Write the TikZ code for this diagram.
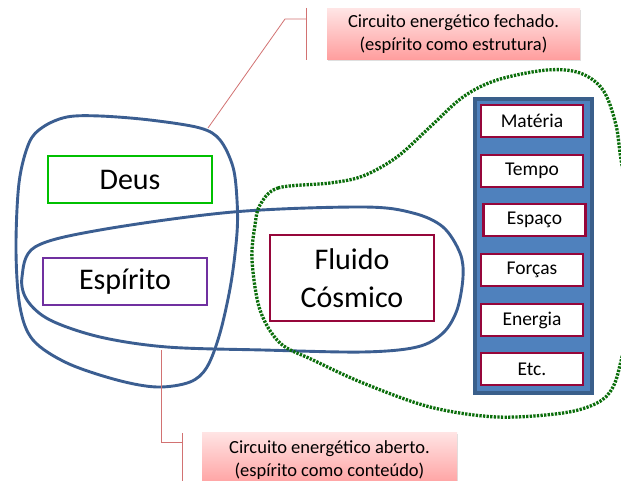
\documentclass[tikz,border=0pt]{standalone}
\usepackage{fontspec}
\setmainfont{Carlito}
\usetikzlibrary{shadows}
\definecolor{loopblue}{HTML}{3B5E91}
\definecolor{dotgreen}{HTML}{0B6E0B}
\definecolor{panelfill}{HTML}{4F81BD}
\definecolor{panelline}{HTML}{3A5F8B}
\definecolor{boxred}{HTML}{96063A}
\definecolor{deusgreen}{HTML}{00C000}
\definecolor{spiritpurple}{HTML}{7030A0}
\definecolor{calloutline}{HTML}{D27272}
\definecolor{calltop}{HTML}{FFE4E4}
\definecolor{callbot}{HTML}{FF9D9D}
\tikzset{
  loopline/.style={draw=loopblue, line width=2.9pt},
  dotline/.style={draw=dotgreen, line width=3.3pt, dash pattern=on 2.3pt off 1.3pt},
  bigbox/.style={draw, fill=white, line width=2.5pt, inner sep=0pt, minimum width=164pt, font=\fontsize{30}{38}\selectfont, align=center},
  smallbox/.style={draw=boxred, fill=white, line width=2.8pt, inner sep=0pt, minimum width=102pt, minimum height=32pt, font=\fontsize{19.5}{22}\selectfont},
  callout/.style={top color=calltop, bottom color=callbot, draw=none, inner sep=0pt, align=center, font=\fontsize{18.5}{23}\selectfont, drop shadow={opacity=0.25, shadow xshift=1pt, shadow yshift=-1.5pt}},
  calline/.style={draw=calloutline, line width=0.8pt}
}
\begin{document}
\begin{tikzpicture}[x=1pt,y=-1pt]
\useasboundingbox (0,0) rectangle (621,481);
\clip (0,0) rectangle (621,481);
\fill[white] (0,0) rectangle (621,481);

% panel
\node[draw=panelline, fill=panelfill, line width=3.2pt, minimum width=117pt, minimum height=294pt, inner sep=0pt] (panel) at (533.5,246) {};

% boxes
\node[bigbox, draw=deusgreen, minimum height=47pt] (deus) at (130,179.5) {Deus};
\node[bigbox, draw=spiritpurple, minimum height=47pt] (espirito) at (125,281.5) {Espírito};
\node[bigbox, draw=boxred, minimum height=86pt] (fluido) at (352,278) {Fluido\\Cósmico};

\node[smallbox] (materia) at (532,121) {Matéria};
\node[smallbox] (tempo) at (532,171) {Tempo};
\node[smallbox] (espaco) at (534.5,220) {Espaço};
\node[smallbox] (forcas) at (532,270) {Forças};
\node[smallbox] (energia) at (532,320) {Energia};
\node[smallbox] (etc) at (532,369) {Etc.};

% loops
\draw[loopline] plot[smooth cycle, tension=0.55] coordinates {(43,127) (67,117) (100,116) (150,120) (200,128) (220,140) (233,167) (237,200) (237,233) (231,283) (220,333) (207,367) (190,382) (157,387) (117,380) (67,363) (33,340) (20,307) (16,250) (19,183) (29,143)};
\draw[loopline] plot[smooth cycle, tension=0.55] coordinates {(22,277) (35,247) (100,230) (233,212) (363,207) (413,213) (443,227) (460,253) (463,277) (457,310) (443,333) (417,347) (363,352) (263,350) (167,347) (100,337) (50,320) (27,300)};
\draw[dotline] plot[smooth cycle, tension=0.55] coordinates {(260,205) (278,188) (330,183) (363,176) (397,157) (430,127) (463,97) (497,80) (547,70) (580,73) (603,90) (616,125) (623,170) (645,260) (623,353) (613,387) (597,403) (563,413) (497,417) (430,407) (363,383) (313,360) (280,343) (260,310) (252,260) (255,225)};

% callouts
\node[callout, minimum width=253pt, minimum height=51pt] (c1) at (453.5,34.5) {Circuito energético fechado.\\(espírito como estrutura)};
\node[callout, minimum width=255pt, minimum height=56pt] (c2) at (329.5,460) {Circuito energético aberto.\\(espírito como conteúdo)};

\coordinate (b1top) at (306,8);
\coordinate (b1bot) at (306,60);
\coordinate (b1mid) at (306,19);
\coordinate (k1) at (285,19);
\coordinate (t1) at (208,128);
\draw[calline] (b1top) -- (b1bot);
\draw[calline] (b1mid) -- (k1) -- (t1);

\coordinate (b2top) at (182,433);
\coordinate (b2bot) at (182,481);
\coordinate (b2mid) at (182,442);
\coordinate (k2) at (161,442);
\coordinate (t2) at (161,350);
\draw[calline] (b2top) -- (b2bot);
\draw[calline] (b2mid) -- (k2) -- (t2);
\end{tikzpicture}
\end{document}
